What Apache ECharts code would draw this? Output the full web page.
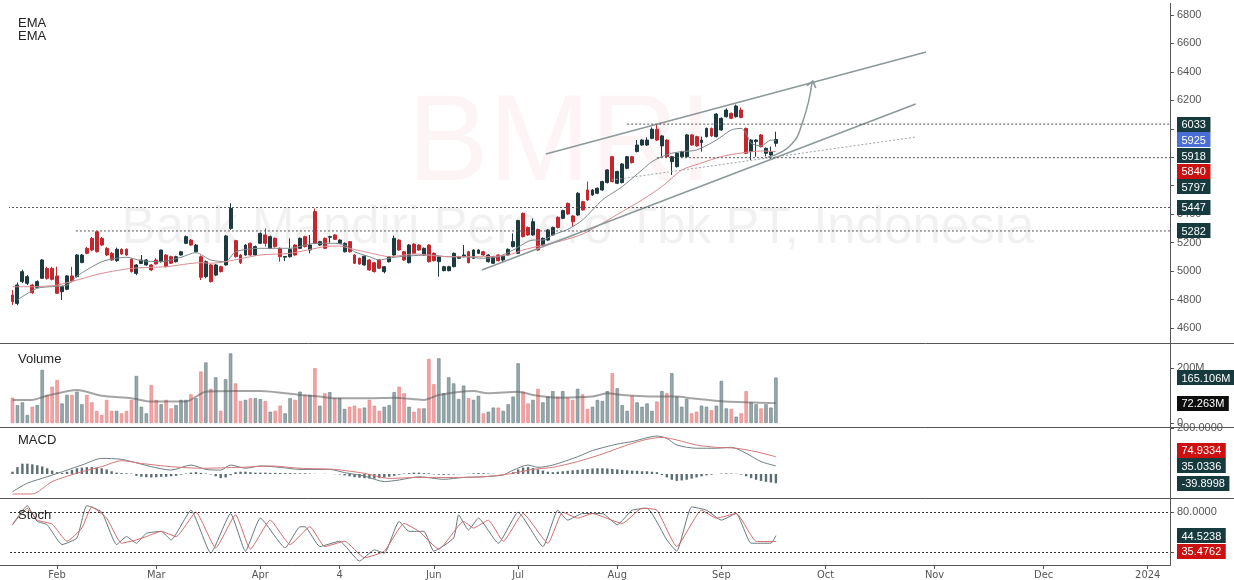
<!DOCTYPE html>
<html>
<head>
<meta charset="utf-8">
<title>BMRI</title>
<script src="https://cdn.jsdelivr.net/npm/echarts@6.0.0/dist/echarts.min.js"></script>
<style>
  html, body { margin: 0; padding: 0; background: #fff; }
  #chart { width: 1234px; height: 580px; }
</style>
</head>
<body>
<div id="chart"></div>
<script>
// trading-day slots on the x axis (data + empty future space)
var catCount = 234;
var monthLabels = ['Feb', 'Mar', 'Apr', '4', 'Jun', 'Jul', 'Aug', 'Sep', 'Oct', 'Nov', 'Dec', '2024'];
var monthIdx = [9, 29, 50, 66, 85, 102, 122, 143, 164, 186, 208, 229];

var opens = [
  4832, 4773, 4926, 4914, 4902, 4886, 4949, 5019, 5019, 4966,
  4855, 4872, 4966, 4961, 5060, 5160, 5230, 5277, 5230, 5160,
  5125, 5073, 5153, 5153, 5083, 4984, 5054, 5043, 5043, 5078,
  5066, 5113, 5101, 5066, 5113, 5195, 5218, 5136, 5101, 4961,
  5043, 4972, 5031, 5043, 5300, 5214, 5113, 5113, 5195, 5113,
  5195, 5254, 5160, 5230, 5160, 5098, 5101, 5183, 5160, 5242,
  5148, 5418, 5183, 5230, 5238, 5254, 5195, 5136, 5207, 5113,
  5090, 5043, 5078, 5059, 5078, 4996, 5066, 5113, 5218, 5136,
  5059, 5190, 5183, 5113, 5183, 5125, 5066, 5003, 5003, 5031,
  5090, 5101, 5136, 5090, 5125, 5136, 5066, 5055, 5113, 5078,
  5113, 5172, 5125, 5406, 5307, 5254, 5293, 5183, 5218, 5254,
  5378, 5371, 5476, 5387, 5394, 5488, 5570, 5535, 5547, 5570,
  5622, 5804, 5617, 5622, 5722, 5804, 5840, 5886, 5886, 5933,
  5997, 5880, 5921, 5769, 5734, 5804, 5804, 5957, 5945, 5903,
  5945, 6003, 5945, 5992, 6085, 6109, 6085, 6132, 6003, 5840,
  5910, 5957, 5828, 5816, 5898
];
var closes = [
  4785, 4902, 4996, 4961, 4848, 4926, 5078, 4949, 4942, 4844,
  4890, 4966, 4930, 5113, 5113, 5125, 5148, 5136, 5183, 5113,
  5078, 5153, 5120, 5113, 4996, 5043, 5078, 5078, 5008, 5050,
  5148, 5031, 5055, 5101, 5136, 5242, 5183, 5183, 4956, 5066,
  4926, 5043, 4996, 5247, 5440, 5101, 5059, 5183, 5113, 5172,
  5265, 5195, 5242, 5172, 5101, 5103, 5153, 5113, 5230, 5172,
  5183, 5195, 5207, 5160, 5242, 5223, 5218, 5195, 5136, 5055,
  5050, 5105, 5008, 4996, 5020, 5031, 5101, 5230, 5148, 5078,
  5183, 5125, 5148, 5160, 5066, 5073, 5101, 5031, 5031, 5125,
  5101, 5113, 5059, 5148, 5148, 5113, 5113, 5101, 5073, 5105,
  5153, 5207, 5355, 5242, 5254, 5347, 5148, 5230, 5289, 5307,
  5307, 5425, 5401, 5347, 5547, 5430, 5500, 5570, 5582, 5629,
  5711, 5629, 5700, 5753, 5804, 5762, 5886, 5921, 5921, 5997,
  5921, 5950, 5804, 5804, 5828, 5840, 5957, 5886, 5880, 5921,
  6003, 5950, 6104, 6074, 6132, 6074, 6160, 6080, 5828, 5921,
  5921, 5875, 5863, 5840, 5925
];
var lows = [
  4762, 4760, 4915, 4902, 4840, 4880, 4945, 4940, 4935, 4840,
  4797, 4865, 4920, 4955, 5055, 5118, 5140, 5130, 5175, 5105,
  5072, 5065, 5115, 5108, 4990, 4972, 5050, 5038, 5000, 5045,
  5060, 5025, 5050, 5060, 5108, 5190, 5178, 5130, 4937, 4950,
  4919, 4965, 4990, 5038, 5290, 5095, 5050, 5108, 5108, 5108,
  5190, 5172, 5155, 5165, 5066, 5070, 5095, 5108, 5155, 5166,
  5125, 5190, 5178, 5155, 5200, 5218, 5190, 5130, 5130, 5050,
  5045, 5038, 5002, 4990, 5014, 4984, 5060, 5108, 5142, 5072,
  5054, 5120, 5142, 5108, 5060, 5068, 4961, 4998, 4998, 5026,
  5085, 5096, 5054, 5085, 5120, 5108, 5060, 5050, 5068, 5060,
  5108, 5166, 5120, 5236, 5248, 5248, 5142, 5178, 5212, 5248,
  5300, 5365, 5395, 5312, 5388, 5424, 5494, 5529, 5541, 5564,
  5616, 5623, 5611, 5616, 5716, 5756, 5834, 5880, 5880, 5927,
  5915, 5804, 5798, 5676, 5728, 5798, 5798, 5880, 5874, 5840,
  5939, 5944, 5939, 5986, 6079, 6068, 6079, 6074, 5822, 5781,
  5804, 5869, 5806, 5781, 5875
];
var highs = [
  4867, 4920, 5010, 4972, 4910, 4935, 5085, 5030, 5030, 5031,
  4895, 4972, 5030, 5120, 5120, 5170, 5240, 5282, 5240, 5170,
  5135, 5165, 5160, 5160, 5090, 5050, 5113, 5085, 5050, 5090,
  5150, 5120, 5108, 5108, 5142, 5250, 5225, 5190, 5110, 5075,
  5050, 5050, 5038, 5255, 5478, 5220, 5120, 5190, 5200, 5180,
  5272, 5300, 5250, 5236, 5166, 5106, 5230, 5190, 5236, 5248,
  5254, 5440, 5212, 5236, 5248, 5260, 5224, 5202, 5212, 5118,
  5095, 5110, 5084, 5064, 5084, 5036, 5107, 5250, 5224, 5142,
  5190, 5196, 5189, 5166, 5189, 5131, 5107, 5037, 5037, 5131,
  5107, 5183, 5142, 5154, 5154, 5142, 5119, 5107, 5119, 5110,
  5159, 5265, 5360, 5412, 5313, 5370, 5299, 5236, 5295, 5313,
  5384, 5431, 5482, 5393, 5555, 5494, 5629, 5576, 5588, 5635,
  5717, 5810, 5706, 5759, 5810, 5810, 5921, 5927, 5940, 6010,
  6033, 5957, 5927, 5810, 5834, 5846, 5963, 5963, 5951, 5945,
  6009, 6009, 6110, 6080, 6144, 6115, 6170, 6150, 6009, 5927,
  5927, 5963, 5869, 5875, 5980
];
// volume, millions
var volumes = [
  92, 65, 75, 29, 59, 65, 193, 102, 132, 156,
  71, 102, 102, 114, 68, 102, 75, 44, 29, 84,
  44, 44, 35, 44, 84, 171, 59, 35, 138, 84,
  68, 84, 53, 65, 84, 84, 104, 90, 187, 220,
  124, 166, 44, 159, 253, 144, 80, 84, 90, 90,
  87, 80, 41, 44, 63, 35, 90, 84, 114, 102,
  102, 199, 63, 108, 112, 90, 90, 51, 59, 63,
  53, 56, 84, 63, 44, 59, 65, 112, 132, 108,
  59, 41, 53, 53, 233, 141, 235, 108, 166, 144,
  87, 136, 90, 84, 99, 35, 41, 56, 56, 44,
  68, 96, 217, 114, 71, 84, 124, 75, 96, 116,
  96, 116, 92, 84, 124, 104, 51, 59, 84, 80,
  116, 181, 126, 65, 44, 99, 75, 59, 71, 44,
  78, 116, 108, 181, 96, 59, 87, 35, 41, 63,
  59, 47, 63, 153, 53, 51, 23, 35, 116, 75,
  68, 53, 68, 56, 165.106
];
// indicator lines, read as [bar, value]
var volumeMa = [[0, 84], [4, 84], [7, 99], [13, 120], [18, 99], [24, 90], [28, 78], [35, 78], [39, 114], [45, 116],
  [50, 116], [58, 102], [62, 96], [65, 90], [72, 90], [77, 92], [83, 84], [86, 102], [93, 116], [96, 108],
  [102, 114], [105, 102], [110, 92], [117, 96], [120, 108], [123, 102], [130, 96], [134, 96], [137, 90],
  [144, 78], [148, 75], [154, 72.263]];
var emaFast = [[1, 4797], [5, 4879], [11, 4902], [13, 4965], [18, 5066], [21, 5090], [23, 5097], [26, 5073],
  [30, 5066], [34, 5097], [37, 5130], [40, 5078], [43, 5066], [45, 5136], [50, 5160], [54, 5160], [56, 5160],
  [59, 5183], [61, 5195], [65, 5195], [67, 5183], [69, 5136], [72, 5101], [74, 5078], [76, 5090], [78, 5101],
  [84, 5113], [88, 5101], [91, 5101], [95, 5090], [98, 5101], [101, 5148], [105, 5218], [107, 5218],
  [109, 5254], [112, 5293], [115, 5359], [119, 5500], [123, 5594], [127, 5711], [129, 5769], [131, 5804],
  [133, 5828], [135, 5840], [138, 5851], [142, 5921], [145, 5992], [147, 6003], [148, 5968], [149, 5898],
  [151, 5880], [153, 5921], [154, 5918]];
var emaSlow = [[0, 4890], [4, 4890], [9, 4902], [13, 4937], [18, 4984], [24, 5019], [31, 5031], [38, 5059],
  [40, 5055], [43, 5066], [50, 5113], [56, 5125], [63, 5172], [66, 5176], [68, 5160], [74, 5113], [76, 5101],
  [81, 5120], [88, 5101], [95, 5101], [100, 5113], [103, 5148], [107, 5183], [111, 5215], [115, 5260],
  [119, 5336], [123, 5418], [127, 5500], [131, 5594], [135, 5710], [139, 5760], [143, 5805], [147, 5830],
  [151, 5844], [154, 5840]];
var macdLine = [[0, -77], [3, -40], [7, -12], [11, 17], [14, 39], [18, 68], [22, 64], [24, 54], [28, 32],
  [32, 17], [36, 39], [39, 20], [42, 17], [44, 39], [47, 25], [50, 35], [54, 29], [58, 20], [64, 20], [67, 6],
  [71, -9], [75, -33], [78, -26], [82, -12], [87, -23], [91, -15], [95, -12], [99, -4], [101, 17], [104, 39],
  [106, 29], [109, 39], [114, 75], [117, 102], [122, 130], [125, 141], [130, 165], [132, 155], [134, 126],
  [138, 112], [142, 112], [145, 116], [148, 90], [151, 54], [154, 35.0336]];
var signalLine = [[0, -87], [4, -87], [8, -33], [14, 10], [18, 32], [22, 58], [26, 46], [32, 32], [38, 25],
  [46, 29], [52, 35], [58, 25], [65, 20], [71, 3], [76, -19], [82, -15], [89, -15], [95, -12], [100, 0],
  [105, 20], [109, 29], [114, 54], [119, 87], [124, 126], [128, 151], [131, 159], [134, 148], [138, 126],
  [142, 116], [146, 112], [150, 97], [154, 74.9334]];
var macdHist = [
  10, 30, 45, 45, 42, 38, 33, 25, 15, 8, 5,
  10, 18, 25, 28, 30, 30, 28, 25, 20,
  12, 6, 4, 3, 2,
  -8, -12, -14, -15, -14, -12, -12, -10, -8,
  -3, 2, 6, 8, 5, 2, -2,
  -10, -18, -15, -5,
  8, 10, 10, 8, 6, 6, 6, 5, 5, 4, 4, 4, 3, 3, 3, 2,
  1, 0, 1, 0, -1, -2,
  -6, -10, -14, -16, -18, -20, -20, -18, -15, -12, -8,
  -3, 2, 4, 6, 6, 4, 3,
  -2, -3, -4, -3, -2, -1,
  0, 1, 3, 4, 3, 2, 1, 0, -1, 0,
  8, 20, 28, 30, 26, 20, 15, 10, 8,
  10, 12, 14, 16, 18, 20, 22, 24, 25, 25, 24, 22, 20, 18, 16, 15, 14, 12, 12, 10, 8,
  -5, -15, -25, -30, -28, -25, -20, -15, -10, -6, -3,
  0, 2, 3, 2, 1, -2,
  -10, -18, -25, -30, -34, -37, -39.8998
];
var stochK = [[0, 61], [3, 90], [4, 78], [5, 66], [7, 61], [10, 31], [13, 41], [15, 90], [18, 80], [21, 31],
  [23, 43], [25, 33], [27, 48], [30, 51], [32, 38], [36, 83], [40, 18], [44, 78], [47, 21], [50, 71], [55, 26],
  [58, 58], [59, 58], [62, 28], [66, 36], [70, 6], [73, 23], [75, 18], [78, 66], [80, 51], [83, 51], [85, 21],
  [89, 41], [90, 76], [92, 53], [94, 71], [98, 33], [102, 80], [107, 28], [110, 83], [112, 68], [115, 78],
  [119, 78], [122, 61], [125, 83], [128, 86], [132, 38], [134, 21], [137, 88], [140, 83], [143, 68], [146, 78],
  [149, 33], [153, 33], [154, 44.5238]];
var stochD = [[0, 61], [3, 86], [5, 68], [8, 62], [11, 36], [14, 56], [16, 88], [19, 71], [22, 33], [25, 38],
  [27, 43], [30, 51], [33, 43], [37, 80], [41, 26], [45, 76], [48, 24], [52, 68], [56, 31], [60, 58], [63, 28],
  [67, 36], [71, 11], [75, 21], [79, 63], [82, 51], [86, 24], [91, 66], [93, 56], [96, 68], [99, 36], [103, 78],
  [108, 33], [111, 80], [114, 71], [117, 78], [123, 63], [127, 86], [130, 83], [134, 28], [139, 83], [142, 71],
  [146, 78], [150, 36], [154, 35.4762]];

// drawn annotations, [bar, price]
var levelValues = [6033, 5797, 5447, 5282];
var levelStart = [124, 130, -0.9, 12.8];
var trendUpper = [[107.6, 5823], [184.3, 6540]];
var trendLower = [[94.7, 5008], [182.2, 6174]];
var trendDotted = [[120.9, 5640], [182.2, 5942]];
var arrowPath = [[152.4, 5802], [156.8, 5879], [159.4, 6048], [161.3, 6329]];

var UP = '#1d3a3e', DOWN = '#c4262d', DARK_TAG = '#173a3e';
var FONT = 'Liberation Sans, Arial, sans-serif';

var categories = [];
for (var i = 0; i < catCount; i++) categories.push(String(i));

var candles = opens.map(function (o, i) { return [o, closes[i], lows[i], highs[i]]; });
var volBars = volumes.map(function (v, i) {
  var up = closes[i] >= opens[i];
  return {
    value: v,
    itemStyle: up ? { color: '#97a8ab', borderColor: '#6a7e82', borderWidth: 0.6 }
                  : { color: '#f4a3a4', borderColor: '#e07f82', borderWidth: 0.6 }
  };
});

var chart = echarts.init(document.getElementById('chart'));

function grid(top, height) {
  return { left: 10, right: 64, top: top, height: height, outerBoundsMode: 'none', containLabel: false };
}
function catAxis(g, showLabels) {
  var pick = function (idx) { return monthIdx.indexOf(idx) >= 0; };
  return {
    type: 'category', gridIndex: g, data: categories, boundaryGap: true,
    axisLine: { show: false },
    axisTick: { show: showLabels, interval: pick, alignWithLabel: true, length: 4, lineStyle: { color: '#555' } },
    axisLabel: {
      show: showLabels, interval: pick, color: '#555', fontSize: 11, margin: 5,
      fontFamily: 'DejaVu Sans Condensed, Liberation Sans, sans-serif',
      formatter: function (v, idx) { var k = monthIdx.indexOf(Number(v)); return k >= 0 ? monthLabels[k] : ''; }
    },
    splitLine: { show: false }
  };
}
function valAxis(g, min, max, ticks, fmt) {
  return {
    type: 'value', gridIndex: g, position: 'right', min: min, max: max, scale: false,
    axisLine: { show: true, onZero: false, lineStyle: { color: '#555', width: 1 } },
    axisTick: { show: true, length: 4, customValues: ticks, lineStyle: { color: '#555' } },
    axisLabel: { show: true, customValues: ticks, color: '#555', fontSize: 11, margin: 7, fontFamily: FONT,
      formatter: fmt },
    splitLine: { show: false }
  };
}
var lineS = function (xi, yi, data, color, extra) {
  var s = { type: 'line', xAxisIndex: xi, yAxisIndex: yi, data: data, showSymbol: false, smooth: 0.25,
    silent: true, lineStyle: { color: color, width: 1 }, z: 3 };
  for (var k in extra) s[k] = extra[k];
  return s;
};

var series = [
  { type: 'candlestick', xAxisIndex: 0, yAxisIndex: 0, data: candles, barWidth: 3.4,
    itemStyle: { color: UP, color0: DOWN, borderColor: UP, borderColor0: DOWN, borderWidth: 1 } },
  lineS(0, 0, emaFast, '#7c898c'),
  lineS(0, 0, emaSlow, '#dc8a8f'),
  lineS(4, 0, trendUpper, '#8d989b', { smooth: false, lineStyle: { color: '#8d989b', width: 1.6 } }),
  lineS(4, 0, trendLower, '#8d989b', { smooth: false, lineStyle: { color: '#8d989b', width: 1.6 } }),
  lineS(4, 0, trendDotted, '#9aa4a6', { smooth: false, lineStyle: { color: '#9aa4a6', width: 1, type: [2, 2] } }),
  { type: 'line', xAxisIndex: 4, yAxisIndex: 0, smooth: 0.5, silent: true, z: 3,
    lineStyle: { color: '#8d989b', width: 1.5 },
    data: arrowPath.map(function (p, i) {
      return i === arrowPath.length - 1
        ? { value: p, symbol: 'path://M0,10L5,0L10,10', symbolSize: [9, 6], symbolRotate: -14,
            symbolOffset: [0, 2], itemStyle: { color: 'rgba(0,0,0,0)', borderColor: '#8d989b', borderWidth: 1.5 } }
        : { value: p, symbol: 'none' };
    }) },
  { type: 'bar', xAxisIndex: 1, yAxisIndex: 1, data: volBars, barWidth: 3.4, silent: true },
  lineS(1, 1, volumeMa, 'rgba(90,90,90,0.55)', { lineStyle: { color: 'rgba(90,90,90,0.55)', width: 2 } }),
  { type: 'bar', xAxisIndex: 2, yAxisIndex: 2, data: macdHist, barWidth: 2.4, silent: true,
    itemStyle: { color: '#5d6e72' } },
  lineS(2, 2, macdLine, '#6f7f82'),
  lineS(2, 2, signalLine, '#d4777a'),
  lineS(3, 3, stochK, '#66777a', { smooth: 0.15 }),
  lineS(3, 3, stochD, '#d26a6c', { smooth: 0.15,
    markLine: { silent: true, symbol: ['none', 'none'], label: { show: false },
      lineStyle: { color: '#333', width: 1, type: [2, 2] }, data: [{ yAxis: 80 }, { yAxis: 20 }] } })
];
levelValues.forEach(function (v, k) {
  series.push(lineS(4, 0, [[levelStart[k], v], [catCount - 0.5, v]], '#444',
    { smooth: false, lineStyle: { color: '#555', width: 1, type: [2, 2] } }));
});

var baseGraphic = [
  { type: 'text', x: 560, y: 146, z: -5, silent: true,
    style: { text: 'BMRI', font: '122px ' + FONT, fill: 'rgba(232,120,135,0.08)', textAlign: 'center', align: 'center',
      textVerticalAlign: 'middle', verticalAlign: 'middle' } },
  { type: 'text', x: 578, y: 229, z: -5, silent: true,
    style: { text: 'Bank Mandiri Persero Tbk PT, Indonesia', font: '51px ' + FONT, fill: 'rgba(0,0,0,0.055)',
      textAlign: 'center', align: 'center', textVerticalAlign: 'middle', verticalAlign: 'middle' } },
  { type: 'line', z: 50, silent: true, shape: { x1: 0, y1: 343.5, x2: 1234, y2: 343.5 }, style: { stroke: '#555', lineWidth: 1 } },
  { type: 'line', z: 50, silent: true, shape: { x1: 0, y1: 427.5, x2: 1234, y2: 427.5 }, style: { stroke: '#555', lineWidth: 1 } },
  { type: 'line', z: 50, silent: true, shape: { x1: 0, y1: 498.5, x2: 1234, y2: 498.5 }, style: { stroke: '#555', lineWidth: 1 } },
  { type: 'line', z: 50, silent: true, shape: { x1: 0, y1: 565.5, x2: 1170.5, y2: 565.5 }, style: { stroke: '#555', lineWidth: 1 } },
  { type: 'line', z: 50, silent: true, shape: { x1: 1170.5, y1: 3, x2: 1170.5, y2: 565.5 }, style: { stroke: '#555', lineWidth: 1 } }
];
[['EMA', 23], ['EMA', 36], ['Volume', 359], ['MACD', 440], ['Stoch', 515]].forEach(function (t) {
  baseGraphic.push({ type: 'text', x: 18, y: t[1], z: 60, silent: true,
    style: { text: t[0], font: '13px ' + FONT, fill: '#222', textVerticalAlign: 'middle', verticalAlign: 'middle' } });
});

chart.setOption({
  animation: false,
  backgroundColor: '#fff',
  grid: [grid(5, 338), grid(345, 78), grid(428, 70), grid(499, 66)],
  xAxis: [catAxis(0, false), catAxis(1, false), catAxis(2, false), catAxis(3, true),
    { type: 'value', gridIndex: 0, min: -0.5, max: catCount - 0.5, show: false }],
  yAxis: [
    valAxis(0, 4494.5, 6870.3, [4600, 4800, 5000, 5200, 5400, 5600, 5800, 6000, 6200, 6400, 6600, 6800],
      function (v) { return String(v); }),
    valAxis(1, 0, 283.6, [0, 200], function (v) { return v === 0 ? '0' : v + 'M'; }),
    valAxis(2, -104.3, 200, [200], function (v) { return v.toFixed(4); }),
    valAxis(3, 0, 100, [20, 80], function (v) { return v.toFixed(4); })
  ],
  series: series,
  graphic: baseGraphic
});

// value tags on the right axis
var last = function (arr) { var v = arr[arr.length - 1]; return Array.isArray(v) ? v[1] : v; };
var panes = [
  { axis: 0, dir: 'down', fmt: function (v) { return String(Math.round(v)); }, tags: [
    { value: levelValues[0], color: DARK_TAG },
    { value: last(closes), color: '#4a6ed6' },
    { value: last(emaFast), color: DARK_TAG },
    { value: last(emaSlow), color: '#cc1010' },
    { value: levelValues[1], color: DARK_TAG },
    { value: levelValues[2], color: DARK_TAG },
    { value: levelValues[3], color: DARK_TAG }] },
  { axis: 1, dir: 'down', fmt: function (v) { return v.toFixed(3) + 'M'; }, tags: [
    { value: last(volumes), color: DARK_TAG },
    { value: last(volumeMa), color: '#0d0d0d' }] },
  { axis: 2, dir: 'up', fmt: function (v) { return v.toFixed(4); }, tags: [
    { value: last(signalLine), color: '#cc1010' },
    { value: last(macdLine), color: DARK_TAG },
    { value: last(macdHist), color: DARK_TAG }] },
  { axis: 3, dir: 'down', fmt: function (v) { return v.toFixed(4); }, tags: [
    { value: last(stochK), color: DARK_TAG },
    { value: last(stochD), color: '#cc1010' }] }
];
var gap = 15.7;
var ctx = document.createElement('canvas').getContext('2d');
var tagFont = '11px ' + FONT;
ctx.font = tagFont;
var tagGraphic = [];
panes.forEach(function (p) {
  p.tags.forEach(function (t) { t.y = chart.convertToPixel({ yAxisIndex: p.axis }, t.value); });
  var s = p.tags.slice().sort(function (a, b) { return a.y - b.y; });
  var i;
  if (p.dir === 'down') {
    for (i = 1; i < s.length; i++) if (s[i].y < s[i - 1].y + gap) s[i].y = s[i - 1].y + gap;
  } else {
    for (i = s.length - 2; i >= 0; i--) if (s[i].y > s[i + 1].y - gap) s[i].y = s[i + 1].y - gap;
  }
  s.forEach(function (t) {
    var txt = p.fmt(t.value);
    var w = ctx.measureText(txt).width + 9;
    tagGraphic.push({ type: 'rect', z: 100, silent: true,
      shape: { x: 1177, y: Math.round(t.y - 7.5), width: w, height: 15 }, style: { fill: t.color } });
    tagGraphic.push({ type: 'text', z: 101, silent: true, x: 1181.5, y: Math.round(t.y) + 0.5,
      style: { text: txt, font: tagFont, fill: '#fff', textVerticalAlign: 'middle', verticalAlign: 'middle' } });
  });
});
chart.setOption({ graphic: baseGraphic.concat(tagGraphic) });
</script>
</body>
</html>
